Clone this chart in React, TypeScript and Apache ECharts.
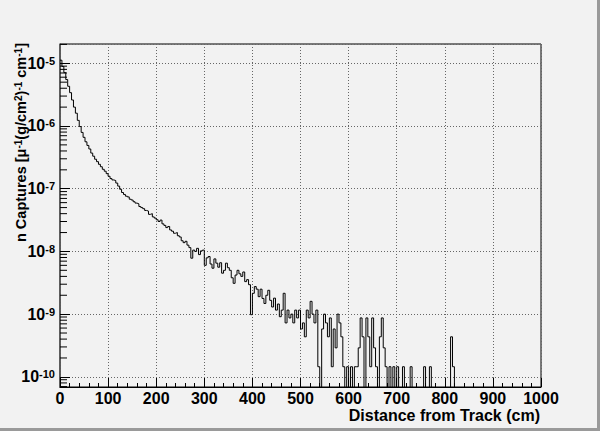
import React, { useEffect, useRef } from "react";
import * as echarts from "echarts";

// Histogram: bin low edges every 4 cm starting at 0 (values per bin, 0 = empty bin)
const BIN_WIDTH = 4;
const X_MAX = 1000;
const HIST_VALUES: number[] = [
  1.12e-5, 8.9e-6, 7.1e-6, 5.5e-6, 4.3e-6, 3.4e-6, 2.6e-6, 2.0e-6, 1.6e-6, 1.23e-6,
  9.8e-7, 7.9e-7, 6.6e-7, 5.6e-7, 4.9e-7, 4.3e-7, 3.7e-7, 3.3e-7, 2.95e-7, 2.7e-7,
  2.45e-7, 2.24e-7, 2.04e-7, 1.9e-7, 1.74e-7, 1.58e-7, 1.45e-7, 1.38e-7, 1.35e-7, 1.23e-7,
  1.1e-7, 9.8e-8, 8.7e-8, 8.1e-8, 7.6e-8, 7.4e-8, 6.8e-8, 6.6e-8, 6.2e-8, 5.9e-8,
  5.75e-8, 5.2e-8, 5.0e-8, 4.8e-8, 4.5e-8, 4.4e-8, 3.9e-8, 4.0e-8, 3.55e-8, 3.4e-8,
  3.2e-8, 3.0e-8, 3.16e-8, 2.75e-8, 2.6e-8, 2.4e-8, 2.5e-8, 2.2e-8, 2.1e-8, 1.95e-8,
  2.0e-8, 1.78e-8, 1.7e-8, 1.48e-8, 1.38e-8, 1.45e-8, 1.26e-8, 1.15e-8, 7.8e-9, 1.05e-8,
  1.0e-8, 1.12e-8, 8.9e-9, 1.02e-8, 1.05e-8, 6.0e-9, 7.9e-9, 8.3e-9, 6.3e-9, 5.4e-9,
  7.6e-9, 6.5e-9, 5.6e-9, 6.6e-9, 4.5e-9, 5.0e-9, 6.5e-9, 5.5e-9, 5.0e-9, 3.8e-9,
  3.1e-9, 4.2e-9, 5.0e-9, 4.4e-9, 4.0e-9, 4.7e-9, 3.3e-9, 3.55e-9, 2.95e-9, 9.8e-10,
  2.15e-9, 2.75e-9, 2.5e-9, 1.9e-9, 2.5e-9, 1.78e-9, 1.48e-9, 2.0e-9, 2.4e-9, 1.66e-9,
  1.3e-9, 1.8e-9, 1.16e-9, 1.45e-9, 9.1e-10, 1.16e-9, 2.15e-9, 7.25e-10, 1.16e-9, 8.7e-10,
  1.0e-9, 7.25e-10, 1.16e-9, 8.7e-10, 1.16e-9, 5.8e-10, 7.25e-10, 4.35e-10, 1.16e-9, 8.7e-10,
  1.6e-9, 1.0e-9, 7.25e-10, 1.16e-9, 1.45e-10, 0, 5.8e-10, 1.0e-9, 7.25e-10, 4.35e-10,
  8.7e-10, 1.45e-10, 5.8e-10, 2.9e-10, 1.0e-9, 7.25e-10, 4.35e-10, 1.45e-10, 0, 1.45e-10,
  0, 1.45e-10, 0, 1.45e-10, 1.45e-10, 2.9e-10, 8.7e-10, 4.35e-10, 0, 8.7e-10,
  4.35e-10, 1.45e-10, 8.7e-10, 2.9e-10, 1.45e-10, 0, 4.35e-10, 8.7e-10, 2.9e-10, 1.45e-10,
  0, 1.45e-10, 0, 1.45e-10, 0, 1.45e-10, 0, 0, 1.45e-10, 0,
  0, 0, 1.45e-10, 0, 0, 0, 0, 0, 0, 1.45e-10,
  0, 0, 1.45e-10, 0, 0, 0, 0, 0, 0, 0,
  0, 0, 0, 4.35e-10, 1.45e-10, 0,
];

// Axis ranges
const Y_MIN = 6.89e-11;
const Y_MAX = 2.03e-5;
const EMPTY_LEVEL = 1e-13; // empty bins drawn below the frame (clipped)
const MINOR_DECADES = [-11, -10, -9, -8, -7, -6, -5];
const MINOR_MULTIPLIERS = [2, 3, 4, 5, 6, 7, 8, 9];

const X_TITLE = "Distance from Track (cm)";
const FONT = "'Liberation Sans', Arial, Helvetica, sans-serif";

export default function App() {
  const ref = useRef<HTMLDivElement>(null);

  useEffect(() => {
    if (!ref.current) return;
    const chart = echarts.init(ref.current, null, { renderer: "svg" });

    const histData: [number, number][] = HIST_VALUES.map((v, i) => [
      i * BIN_WIDTH,
      v > 0 ? v : EMPTY_LEVEL,
    ]);
    histData.push([HIST_VALUES.length * BIN_WIDTH, EMPTY_LEVEL]);
    histData.push([X_MAX, EMPTY_LEVEL]);

    const minorTicks: [number, number][] = [];
    MINOR_DECADES.forEach((d) =>
      MINOR_MULTIPLIERS.forEach((m) => {
        const v = m * Math.pow(10, d);
        if (v > Y_MIN && v < Y_MAX) minorTicks.push([0, v]);
      })
    );

    const labelRich = {
      b: { fontFamily: FONT, fontWeight: "bold", fontSize: 16, color: "#000" },
      s: {
        fontFamily: FONT,
        fontWeight: "bold",
        fontSize: 11,
        color: "#000",
        verticalAlign: "top",
      },
    };

    chart.setOption({
      animation: false,
      backgroundColor: "#f2f2f2",
      grid: {
        left: 60,
        right: 59,
        top: 44,
        bottom: 44,
        show: true,
        borderColor: "#000",
        borderWidth: 1,
        backgroundColor: "transparent",
      },
      xAxis: {
        type: "value",
        min: 0,
        max: X_MAX,
        interval: 100,
        axisLine: { show: true, lineStyle: { color: "#000", width: 1 } },
        axisTick: { show: true, inside: true, length: 9, lineStyle: { color: "#000" } },
        minorTick: { show: true, splitNumber: 5, length: 4, lineStyle: { color: "#000" } },
        axisLabel: {
          margin: 4,
          fontFamily: FONT,
          fontWeight: "bold",
          fontSize: 16,
          lineHeight: 14,
          color: "#000",
          formatter: (v: number) => String(v),
        },
        splitLine: { show: true, lineStyle: { type: [1, 2], color: "#666", width: 1 } },
      },
      yAxis: {
        type: "log",
        logBase: 10,
        min: Y_MIN,
        max: Y_MAX,
        axisLine: { show: true, lineStyle: { color: "#555", width: 1.5 } },
        axisTick: { show: true, inside: true, length: 10, lineStyle: { color: "#000" } },
        axisLabel: {
          margin: 5,
          showMinLabel: false,
          showMaxLabel: false,
          formatter: (v: number) => `{b|10}{s|${Math.round(Math.log10(v))}}`,
          rich: labelRich,
        },
        splitLine: { show: true, lineStyle: { type: [1, 2], color: "#666", width: 1 } },
      },
      series: [
        {
          type: "line",
          step: "end",
          data: histData,
          showSymbol: false,
          symbol: "none",
          clip: true,
          lineStyle: { color: "#000", width: 1 },
          z: 4,
        },
        {
          type: "custom",
          data: minorTicks,
          silent: true,
          clip: false,
          z: 5,
          renderItem: (params: any, api: any) => {
            const p = api.coord([0, api.value(1)]);
            return {
              type: "line",
              shape: { x1: p[0], y1: p[1], x2: p[0] + 7, y2: p[1] },
              style: { stroke: "#000", lineWidth: 1 },
            };
          },
        },
      ],
      graphic: [
        {
          type: "text",
          x: 540,
          y: 415,
          style: {
            text: X_TITLE,
            fontFamily: FONT,
            fontWeight: "bold",
            fontSize: 16,
            lineHeight: 14,
            fill: "#000",
            align: "right",
            verticalAlign: "middle",
          },
        },
        {
          type: "text",
          x: 21,
          y: 43,
          rotation: Math.PI / 2,
          style: {
            text: "n Captures [\u03bc{s|-1}(g/cm{s|2}){s|-1} cm{s|-1}]",
            fontFamily: FONT,
            fontWeight: "bold",
            fontSize: 14.5,
            fill: "#000",
            align: "right",
            verticalAlign: "middle",
            rich: {
              s: {
                fontFamily: FONT,
                fontWeight: "bold",
                fontSize: 10,
                fill: "#000",
                verticalAlign: "top",
              },
            },
          },
        },
        {
          type: "rect",
          shape: { x: 0, y: 428, width: 600, height: 3 },
          style: { fill: "#9a9a9a" },
        },
        {
          type: "rect",
          shape: { x: 597, y: 0, width: 3, height: 431 },
          style: { fill: "#9a9a9a" },
        },
      ],
    });

    return () => chart.dispose();
  }, []);

  return (
    <div
      ref={ref}
      style={{ position: "absolute", left: 0, top: 0, width: 600, height: 431 }}
    />
  );
}
